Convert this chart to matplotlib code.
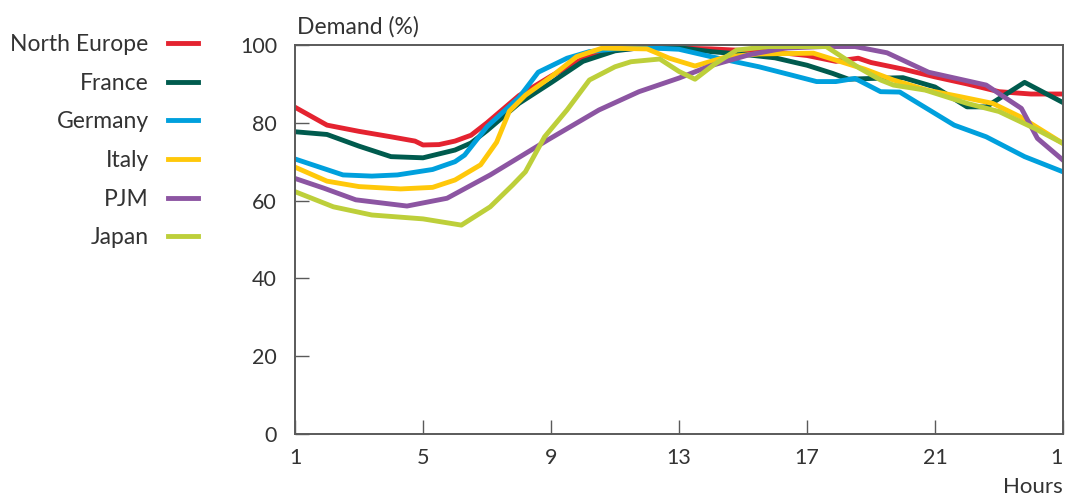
import matplotlib
matplotlib.use("Agg")
import matplotlib.pyplot as plt

plt.rcParams['font.family'] = ['Lato', 'DejaVu Sans']

# hourly demand profiles (% of daily peak), vertices
hours_ne = [1, 2, 3, 4, 4.75, 5, 5.5, 6, 6.5, 7, 8, 9, 10, 11, 12, 13, 14, 15,
            16, 17, 17.9, 18.6, 19, 20, 21, 22, 23, 24, 25]
north_europe = [84, 79.4, 77.8, 76.4, 75.3, 74.3, 74.4, 75.3, 76.8, 80, 87, 92,
                96.5, 98.8, 99.3, 99.2, 99, 98.6, 98.2, 97.3, 95.8, 96.6, 95.5,
                93.8, 91.8, 90, 88, 87.4, 87.4]

hours_fr = [1, 2, 3, 4, 5, 6, 6.5, 7, 8, 9, 10, 11, 12, 13, 14, 15, 16, 17,
            17.8, 18.3, 19, 20, 21, 22, 22.6, 23.8, 25]
france = [77.7, 77, 74, 71.3, 71, 73, 74.8, 78, 85, 90.3, 95.8, 98.5, 99.5,
          99.3, 98.3, 97.6, 96.7, 94.8, 92.7, 91.2, 91.4, 91.6, 89.2, 84.1,
          84.1, 90.4, 85.2]

hours_de = [1, 2.5, 3.4, 4.2, 5.3, 6, 6.3, 7, 8, 8.6, 9.5, 10.2, 11, 12, 13,
            14, 15.5, 16.5, 17.3, 17.9, 18.5, 19.3, 19.9, 20.3, 21.6, 22.6,
            23.8, 25]
germany = [70.7, 66.6, 66.3, 66.6, 68, 70, 71.7, 79, 86.5, 93, 96.6, 98.3, 99,
           99.3, 98.9, 97, 94.4, 92.3, 90.6, 90.6, 91.4, 88, 87.9, 85.9, 79.4,
           76.4, 71.3, 67.4]

hours_it = [1, 2, 3, 4.3, 5.3, 6, 6.8, 7.3, 7.7, 8.2, 9, 9.8, 10.6, 12, 12.7,
            13.5, 14.5, 15.5, 17.2, 18.8, 19.7, 20.75, 21.8, 22.8, 23.65, 25]
italy = [68.6, 65, 63.6, 63, 63.4, 65.3, 69.2, 75, 83, 87.1, 91.8, 97, 99.2,
         99, 96.6, 94.6, 97, 97.7, 97.9, 93.8, 91, 88.4, 86.7, 85, 81.6, 74.7]

hours_pjm = [1, 1.9, 2.9, 4.5, 5.75, 7.1, 8.9, 10.5, 11.75, 13, 14, 15.2,
             16.3, 17.5, 18.5, 19.5, 20.8, 22.6, 23.7, 24.2, 25]
pjm = [65.7, 63.2, 60.2, 58.6, 60.6, 66.6, 75.6, 83.3, 88, 91.5, 94.7, 97.5,
       99.2, 99.6, 99.6, 98, 93, 89.7, 83.7, 76, 70.4]

hours_jp = [1, 2.2, 3.4, 5, 6.2, 7.1, 7.8, 8.2, 8.8, 9.5, 10.2, 11, 11.5, 12.4,
            13, 13.5, 14.1, 14.8, 15.8, 17.6, 18.65, 19.3, 19.7, 20.7, 22, 23,
            24.1, 25]
japan = [62.3, 58.4, 56.3, 55.3, 53.7, 58.4, 64, 67.4, 76.4, 83.3, 91, 94.4,
         95.7, 96.4, 93.2, 91.2, 95, 98.7, 99.6, 99.6, 94, 91, 89.7, 88.4, 85,
         82.9, 78.6, 74.7]

series = [
    ("North Europe", hours_ne, north_europe, "#e42330"),
    ("France", hours_fr, france, "#005b4e"),
    ("Germany", hours_de, germany, "#00a0dd"),
    ("Italy", hours_it, italy, "#ffc80a"),
    ("PJM", hours_pjm, pjm, "#8c55a2"),
    ("Japan", hours_jp, japan, "#bdcf3a"),
]

xticks = [1, 5, 9, 13, 17, 21, 25]
xticklabels = ["1", "5", "9", "13", "17", "21", "1"]
yticks = [0, 20, 40, 60, 80, 100]

text_color = "#333333"
frame_color = "#5a5a5a"

fig = plt.figure(figsize=(10.65, 4.97), dpi=100)
ax = fig.add_axes([295 / 1065, 1 - 434 / 497, 768 / 1065, 389 / 497])

for name, hx, hy, col in series:
    ax.plot(hx, hy, color=col, lw=3.5, label=name)

ax.set_xlim(1, 25)
ax.set_ylim(0, 100)
ax.set_xticks(xticks)
ax.set_xticklabels(xticklabels)
ax.set_yticks(yticks)
# keep the closing "1" inside the picture
ax.get_xticklabels()[-1].set_horizontalalignment("right")

for s in ax.spines.values():
    s.set_color(frame_color)
    s.set_linewidth(1.4)

ax.tick_params(axis="both", direction="in", length=10, width=1.0,
               color=frame_color, labelsize=15.5, labelcolor=text_color)
ax.tick_params(axis="y", pad=13)
ax.tick_params(axis="x", pad=10)

ax.text(0.002, 1.02, "Demand (%)", transform=ax.transAxes, ha="left",
        va="bottom", fontsize=16.5, color=text_color)
fig.text(1063 / 1065, 1 - 487 / 497, "Hours", ha="right", va="center",
         fontsize=16, color=text_color)

leg = ax.legend(loc="upper right", bbox_to_anchor=(198 / 1065, 1 - 34 / 497),
                bbox_transform=fig.transFigure, markerfirst=False,
                frameon=False, fontsize=16.5, handlelength=1.3,
                handletextpad=0.85, labelspacing=0.77, borderpad=0,
                borderaxespad=0)
for t in leg.get_texts():
    t.set_color(text_color)
for h in leg.get_lines():
    h.set_linewidth(3.5)

fig.savefig("out.png", dpi=100)
